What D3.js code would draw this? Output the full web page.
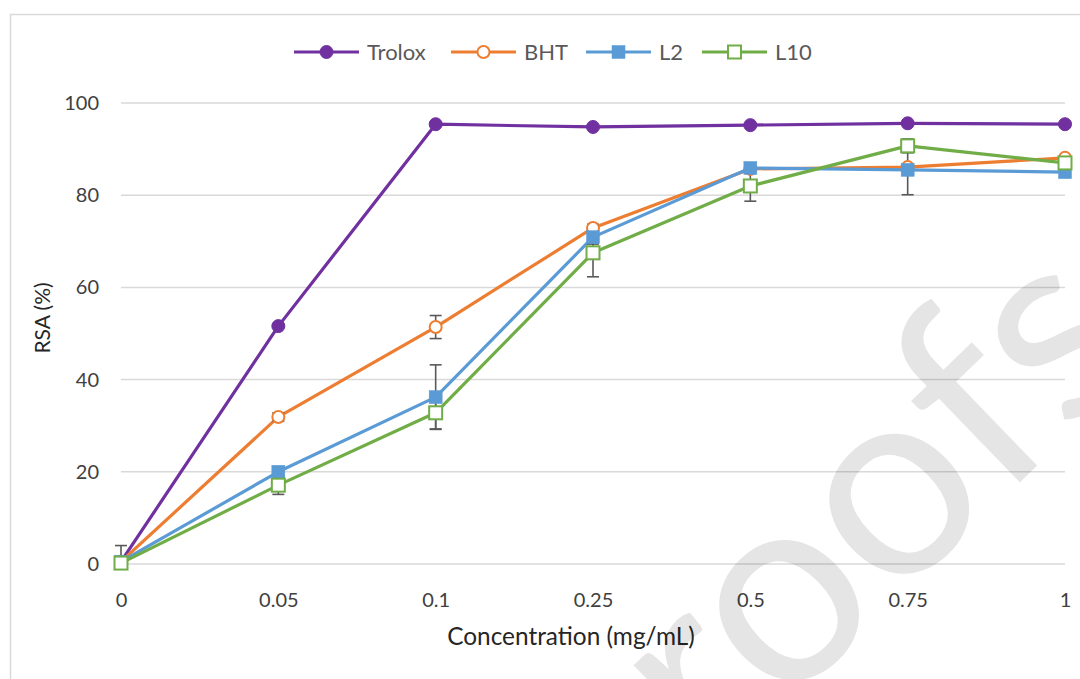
<!DOCTYPE html>
<html>
<head>
<meta charset="utf-8">
<script src="https://cdn.jsdelivr.net/npm/d3@7"></script>
<style>
  body { margin: 0; background: #fff; }
  svg { display: block; font-family: Lato, 'Open Sans', sans-serif; }
</style>
</head>
<body>
<svg id="chart" width="1080" height="679"></svg>
<script>
// concentrations (mg/mL), shown as evenly spaced categories
const concentrations = ['0', '0.05', '0.1', '0.25', '0.5', '0.75', '1']
const yTicks = [0, 20, 40, 60, 80, 100]

// RSA (%) per series
const trolox = [0.5, 51.6, 95.4, 94.8, 95.2, 95.6, 95.4]
const bht = [0.5, 31.9, 51.4, 72.9, 85.7, 86.1, 88.1]
const l2 = [0.5, 20.0, 36.2, 70.9, 85.9, 85.5, 85.0]
const l10 = [0.2, 17.1, 32.8, 67.5, 82.0, 90.7, 87.0]

// error bar half widths (%)
const troloxErr = [0, 0.4, 0.3, 0.3, 0.3, 0.3, 0.3]
const bhtErr = [0.5, 0.9, 2.5, 0.8, 0.5, 0.5, 0.5]
const l2Err = [3.5, 1.0, 7.0, 1.5, 0.5, 5.4, 0.5]
const l10Err = [0.5, 2.0, 3.5, 5.2, 3.3, 1.5, 0.8]

const series = [
  { name: 'Trolox', values: trolox, err: troloxErr, color: '#7030a0', marker: 'circle', filled: true },
  { name: 'BHT', values: bht, err: bhtErr, color: '#ed7d31', marker: 'circle', filled: false },
  { name: 'L2', values: l2, err: l2Err, color: '#5b9bd5', marker: 'square', filled: true },
  { name: 'L10', values: l10, err: l10Err, color: '#70ad47', marker: 'square', filled: false }
]

const svg = d3.select('#chart')
const plot = { left: 121, right: 1065, top: 103, bottom: 564 }

const x = d3.scalePoint().domain(concentrations).range([plot.left, plot.right]).padding(0)
const y = d3.scaleLinear().domain([0, 100]).range([plot.bottom, plot.top])

// chart frame
svg.append('rect')
  .attr('x', 10.5).attr('y', 14.5).attr('width', 1200).attr('height', 800)
  .attr('fill', 'none').attr('stroke', '#d9d9d9').attr('stroke-width', 1.5)

// gridlines
svg.append('g').selectAll('line')
  .data(yTicks).enter().append('line')
  .attr('x1', plot.left).attr('x2', plot.right)
  .attr('y1', d => y(d)).attr('y2', d => y(d))
  .attr('stroke', '#d9d9d9').attr('stroke-width', 1.5)

// y axis labels
const yAxis = svg.append('g')
  .attr('transform', `translate(${plot.left - 22},0)`)
  .call(d3.axisLeft(y).tickValues(yTicks).tickSize(0).tickPadding(0))
yAxis.select('.domain').remove()
yAxis.selectAll('text').attr('font-size', 20).attr('fill', '#404040')
  .attr('font-family', 'Lato, sans-serif')

// x axis labels
const xAxis = svg.append('g')
  .attr('transform', `translate(0,${plot.bottom + 29})`)
  .call(d3.axisBottom(x).tickSize(0).tickPadding(0))
xAxis.select('.domain').remove()
xAxis.selectAll('text').attr('font-size', 20).attr('fill', '#404040')
  .attr('font-family', 'Lato, sans-serif')

// axis titles
svg.append('text')
  .attr('x', 571).attr('y', 645)
  .attr('text-anchor', 'middle').attr('font-size', 24.4).attr('fill', '#262626')
  .text('Concentration (mg/mL)')
svg.append('text')
  .attr('transform', 'translate(50,318) rotate(-90)')
  .attr('text-anchor', 'middle').attr('font-size', 21).attr('fill', '#262626')
  .text('RSA (%)')

svg.append('clipPath').attr('id', 'plotclip')
  .append('rect').attr('x', 0).attr('y', plot.top - 40)
  .attr('width', 1080).attr('height', plot.bottom - plot.top + 40)

const line = d3.line().x((d, i) => x(concentrations[i])).y(d => y(d))

// series lines
svg.append('g').selectAll('path')
  .data(series).enter().append('path')
  .attr('d', s => line(s.values))
  .attr('fill', 'none').attr('stroke', s => s.color)
  .attr('stroke-width', 3.2).attr('stroke-linejoin', 'round')

// error bars
const errG = svg.append('g').attr('clip-path', 'url(#plotclip)')
series.forEach(s => {
  const pts = s.values.map((v, i) => ({ cx: x(concentrations[i]), v, e: s.err[i] })).filter(p => p.e > 0)
  const g = errG.append('g').attr('stroke', '#595959').attr('stroke-width', 1.6)
  g.selectAll('line.bar').data(pts).enter().append('line')
    .attr('x1', p => p.cx).attr('x2', p => p.cx)
    .attr('y1', p => y(p.v + p.e)).attr('y2', p => y(p.v - p.e))
  g.selectAll('line.capT').data(pts).enter().append('line')
    .attr('x1', p => p.cx - 6).attr('x2', p => p.cx + 6)
    .attr('y1', p => y(p.v + p.e)).attr('y2', p => y(p.v + p.e))
  g.selectAll('line.capB').data(pts).enter().append('line')
    .attr('x1', p => p.cx - 6).attr('x2', p => p.cx + 6)
    .attr('y1', p => y(p.v - p.e)).attr('y2', p => y(p.v - p.e))
})

function drawMarker (g, s, cx, cy) {
  if (s.marker === 'circle') {
    g.append('circle').attr('cx', cx).attr('cy', cy)
      .attr('r', s.filled ? 6.5 : 6)
      .attr('fill', s.filled ? s.color : '#fff')
      .attr('stroke', s.color).attr('stroke-width', s.filled ? 1 : 2)
  } else {
    const h = 6.5
    g.append('rect').attr('x', cx - h).attr('y', cy - h)
      .attr('width', 2 * h).attr('height', 2 * h)
      .attr('fill', s.filled ? s.color : '#fff')
      .attr('stroke', s.color).attr('stroke-width', s.filled ? 0.5 : 2)
  }
}

// markers
const markG = svg.append('g')
series.forEach(s => {
  s.values.forEach((v, i) => drawMarker(markG, s, x(concentrations[i]), y(v)))
})

// legend
const legendX = [294, 451, 586, 702]
const legend = svg.append('g')
series.forEach((s, i) => {
  const lx = legendX[i]
  const w = 65
  legend.append('line')
    .attr('x1', lx).attr('x2', lx + w).attr('y1', 52).attr('y2', 52)
    .attr('stroke', s.color).attr('stroke-width', 3.2)
  drawMarker(legend, s, lx + w / 2, 52)
  legend.append('text')
    .attr('x', lx + w + 8).attr('y', 52).attr('dy', '0.35em')
    .attr('font-size', 22).attr('fill', '#595959')
    .text(s.name)
})

// watermark
svg.append('text')
  .attr('transform', 'translate(606,882) rotate(-44)')
  .attr('font-size', 270).attr('font-family', 'Lato, sans-serif')
  .attr('fill', '#000').attr('fill-opacity', 0.1)
  .text('proofs')
</script>
</body>
</html>
